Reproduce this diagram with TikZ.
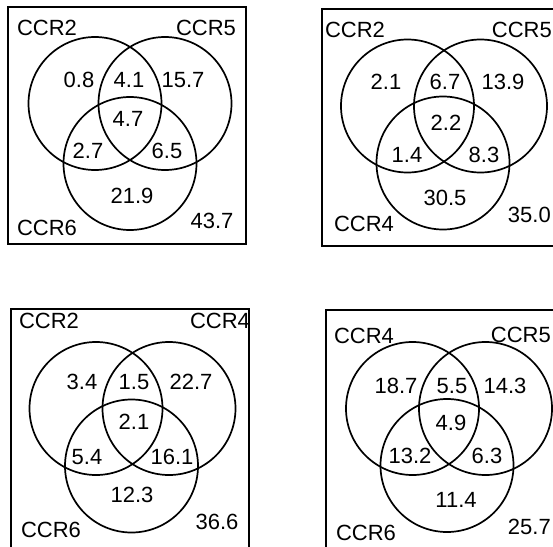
\documentclass[tikz,border=0pt]{standalone}
\usepackage{fontspec}
\setmainfont{Liberation Sans}
\begin{document}
\begin{tikzpicture}[x=1pt,y=-1pt,
  lbl/.style={inner sep=0pt, font=\fontsize{22}{24}\selectfont},
  venn/.style={draw, circle, line width=1.7pt, minimum size=133pt, inner sep=0pt},
  panel/.style={draw, line width=1.7pt}]
\useasboundingbox (0,0) rectangle (553,546);
\clip (0,0) rectangle (553,546);
\fill[white] (0,0) rectangle (553,546);
% ---------- Panel 1 ----------
\draw[panel] (8,7) rectangle (246,244);
\node[venn] (p1a) at (95,103.5) {};
\node[venn] (p1b) at (165,103.5) {};
\node[venn] (p1c) at (130,163.5) {};
\node[lbl] (p1la) at (47,28) {CCR2};
\node[lbl] (p1lb) at (206,28) {CCR5};
\node[lbl] (p1lc) at (47,228) {CCR6};
\node[lbl] (p1n1) at (79,80) {0.8};
\node[lbl] (p1n2) at (129,80) {4.1};
\node[lbl] (p1n3) at (183,80) {15.7};
\node[lbl] (p1n4) at (128,119) {4.7};
\node[lbl] (p1n5) at (88,151) {2.7};
\node[lbl] (p1n6) at (167,151) {6.5};
\node[lbl] (p1n7) at (132,196) {21.9};
\node[lbl] (p1n8) at (212,221) {43.7};
% ---------- Panel 2 ----------
\draw[panel] (322,9) rectangle (560,246);
\node[venn] (p2a) at (407.5,106) {};
\node[venn] (p2b) at (480.5,106) {};
\node[venn] (p2c) at (443,163) {};
\node[lbl] (p2la) at (355,30) {CCR2};
\node[lbl, anchor=east] (p2lb) at (552,30) {CCR5};
\node[lbl] (p2lc) at (364,224) {CCR4};
\node[lbl] (p2n1) at (386,82) {2.1};
\node[lbl] (p2n2) at (445,82) {6.7};
\node[lbl] (p2n3) at (503,82) {13.9};
\node[lbl] (p2n4) at (446,123) {2.2};
\node[lbl] (p2n5) at (407,155) {1.4};
\node[lbl] (p2n6) at (484,155) {8.3};
\node[lbl] (p2n7) at (445,198) {30.5};
\node[lbl, anchor=east] (p2n8) at (551,215) {35.0};
% ---------- Panel 3 ----------
\draw[panel] (11,309) rectangle (249,550);
\node[venn] (p3a) at (96,408.5) {};
\node[venn] (p3b) at (169,408.5) {};
\node[venn] (p3c) at (131.5,466) {};
\node[lbl] (p3la) at (49,321) {CCR2};
\node[lbl] (p3lb) at (220,321) {CCR4};
\node[lbl] (p3lc) at (51,530) {CCR6};
\node[lbl] (p3n1) at (82,382) {3.4};
\node[lbl] (p3n2) at (134,382) {1.5};
\node[lbl] (p3n3) at (191,382) {22.7};
\node[lbl] (p3n4) at (134,422) {2.1};
\node[lbl] (p3n5) at (87,457) {5.4};
\node[lbl] (p3n6) at (172,457) {16.1};
\node[lbl] (p3n7) at (132,495) {12.3};
\node[lbl] (p3n8) at (217,522) {36.6};
% ---------- Panel 4 ----------
\draw[panel] (326,310) rectangle (564,550);
\node[venn] (p4a) at (412.5,408.5) {};
\node[venn] (p4b) at (485.5,408.5) {};
\node[venn] (p4c) at (447,465.5) {};
\node[lbl] (p4la) at (364,336) {CCR4};
\node[lbl, anchor=east] (p4lb) at (551,335) {CCR5};
\node[lbl] (p4lc) at (366,533) {CCR6};
\node[lbl] (p4n1) at (396,386) {18.7};
\node[lbl] (p4n2) at (452,386) {5.5};
\node[lbl] (p4n3) at (505,386) {14.3};
\node[lbl] (p4n4) at (451,423) {4.9};
\node[lbl] (p4n5) at (410,456) {13.2};
\node[lbl] (p4n6) at (487,456) {6.3};
\node[lbl] (p4n7) at (456,500) {11.4};
\node[lbl, anchor=east] (p4n8) at (551,527) {25.7};
\end{tikzpicture}
\end{document}
